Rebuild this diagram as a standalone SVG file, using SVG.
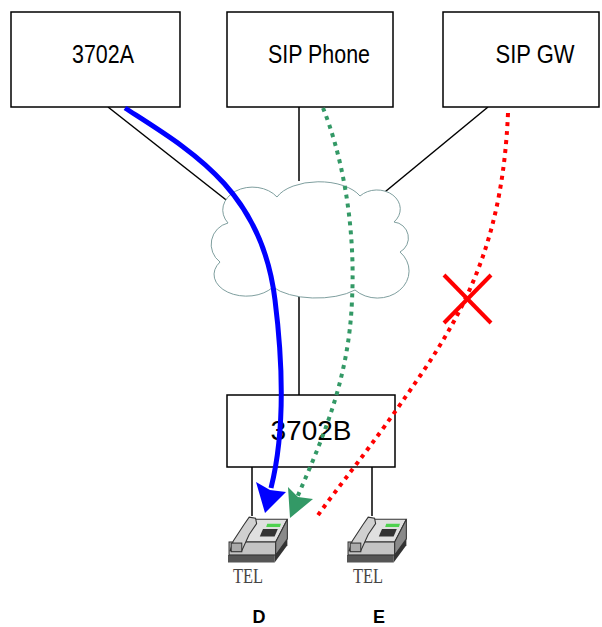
<svg xmlns="http://www.w3.org/2000/svg" width="602" height="627" viewBox="0 0 602 627">
<style>
.box{fill:#fff;stroke:#000;stroke-width:1.5}
.lbl{font-family:"Liberation Sans",Arial,sans-serif;font-size:25px;fill:#000;text-anchor:middle}
.link{stroke:#000;stroke-width:1.5;fill:none}
.tel{font-family:"Liberation Serif","Times New Roman",serif;font-size:22px;fill:#444;text-anchor:middle}
.id{font-family:"Liberation Sans",Arial,sans-serif;font-size:18px;font-weight:bold;fill:#000;text-anchor:middle}
</style>
<defs>
<g id="phone">
<polygon points="0,37 44,37 44,44 0,44" fill="#555"/>
<polygon points="44,37 56,22 56,28 44,44" fill="#333"/>
<polygon points="8,25 45,25 56,4 20,4" fill="#e0e0e0" stroke="#333" stroke-width="1"/>
<rect x="1" y="25" width="44" height="12" fill="#c4c4c4" stroke="#333" stroke-width="1"/>
<polygon points="45,25 56,4 56,22 45,37" fill="#8a8a8a" stroke="#333" stroke-width="1"/>
<polygon points="30,20 44,20 47,13 33,13" fill="#333"/>
<polygon points="36,11 49,11 50,8 37,8" fill="#4fd24f"/>
<path d="M2,33 L5,24 L15,9 L20,2 L26,3 L27,8 L20,18 L13,33 Z" fill="#d0d0d0" stroke="#333" stroke-width="1"/>
<rect x="3" y="26" width="10" height="8" fill="#aaa" stroke="#333" stroke-width="1"/>
</g>
</defs>
<rect width="602" height="627" fill="#fff"/>
<g id="connectors">
<line class="link" x1="108" y1="107" x2="230" y2="203"/>
<line class="link" x1="299" y1="107" x2="299" y2="181"/>
<line class="link" x1="488" y1="107" x2="380" y2="196"/>
<line class="link" x1="299" y1="297" x2="299" y2="395"/>
<line class="link" x1="252" y1="467" x2="252" y2="516"/>
<line class="link" x1="372" y1="467" x2="372" y2="516"/>
</g>
<g id="node-3702A"><rect class="box" x="11" y="12" width="169" height="95"/><text class="lbl" x="103" y="63" textLength="62" lengthAdjust="spacingAndGlyphs">3702A</text></g>
<g id="node-sipphone"><rect class="box" x="227" y="12" width="166" height="95"/><text class="lbl" x="319" y="63" textLength="102" lengthAdjust="spacingAndGlyphs">SIP Phone</text></g>
<g id="node-sipgw"><rect class="box" x="443" y="12" width="156" height="95"/><text class="lbl" x="535" y="63" textLength="79" lengthAdjust="spacingAndGlyphs">SIP GW</text></g>
<g id="node-cloud"><path d="M228,223 A26,20 0 0 1 277,197 A45,24 0 0 1 360,196 A22,18 0 0 1 394,222 A16,16 0 0 1 400,252 A28,24 0 0 1 355,290 A50,22 0 0 1 273,287 A30,20 0 0 1 220,262 A22,22 0 0 1 228,223 Z" fill="#fff" stroke="#7f9f9f" stroke-width="1"/></g>
<g id="node-3702B"><rect class="box" x="227" y="395" width="168" height="72"/><text class="lbl" x="311" y="440" style="font-size:28px">3702B</text></g>
<g id="node-D"><use href="#phone" transform="translate(228,515) scale(1.06,1.08)"/><text class="tel" x="248" y="583" textLength="30" lengthAdjust="spacingAndGlyphs">TEL</text><text class="id" x="259" y="623">D</text></g>
<g id="node-E"><use href="#phone" transform="translate(347,515) scale(1.06,1.08)"/><text class="tel" x="368" y="583" textLength="30" lengthAdjust="spacingAndGlyphs">TEL</text><text class="id" x="379" y="623">E</text></g>
<g id="flows">
<path d="M125,108 C190,150 262,190 275,300 C285,380 283,440 271,488" fill="none" stroke="#0000ff" stroke-width="5"/>
<polygon points="265,513 256,482 270,490 286,492" fill="#0000ff"/>
<path d="M323,108 C340,150 356,220 352,300 C349,380 322,440 296,500" fill="none" stroke="#339966" stroke-width="4" stroke-dasharray="4 5"/>
<polygon points="290,518 288,487 298,497 313,499" fill="#339966"/>
<path d="M508,113 C503,230 472,300 420,376 S340,484 316,518" fill="none" stroke="#ff0000" stroke-width="4" stroke-dasharray="4 5"/>
<line x1="444" y1="275" x2="491" y2="323" stroke="#ff0000" stroke-width="4"/>
<line x1="444" y1="323" x2="491" y2="275" stroke="#ff0000" stroke-width="4"/>
</g>
</svg>
